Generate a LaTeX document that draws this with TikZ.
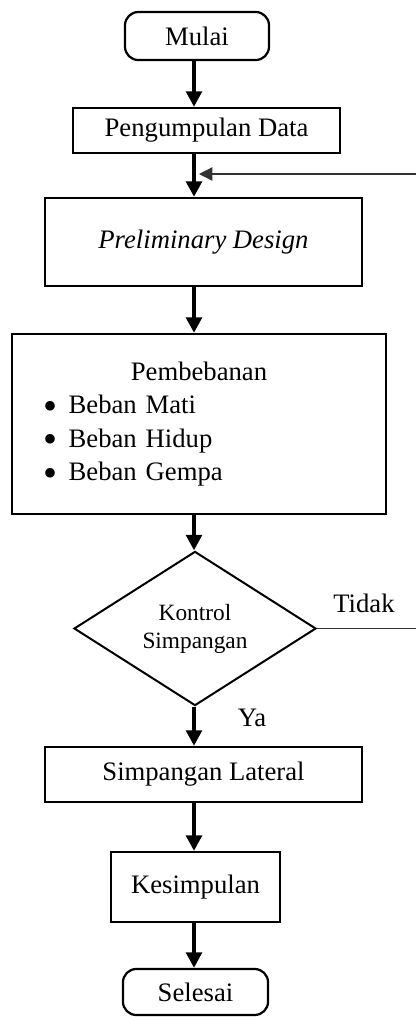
\documentclass[tikz,border=0pt]{standalone}
\usepackage{fontspec}
\setmainfont{Liberation Serif}
\usetikzlibrary{arrows.meta,shapes.geometric}
\tikzset{
  block/.style={draw,rectangle,line width=1pt,inner sep=0pt,align=center},
  term/.style={block,rounded corners=6pt},
  decision/.style={draw,diamond,line width=0.9pt,inner sep=0pt,align=center,font=\fontsize{10.5}{12.6}\selectfont},
  flow/.style={line width=2.2pt,-{Triangle[length=7pt,width=7pt]}},
  back/.style={line width=0.6pt,draw=black!80,-{Triangle[length=6pt,width=6pt]}}
}
\newcommand{\bulitem}{\hspace*{14pt}\makebox[11.5pt][l]{\smash{\raisebox{-2.6pt}{\scalebox{1.5}{\textbullet}}}}}

\begin{document}
\begin{tikzpicture}[x=0.45pt,y=-0.45pt,font=\fontsize{12}{15}\selectfont]
  \useasboundingbox (0,0) rectangle (416,1017);
  \coordinate (col) at (194,0);
  \coordinate (rim) at (440,174);
  \coordinate (join) at (199,174);

  \node[term,minimum width=64.8pt,minimum height=21.6pt] (mulai) at (197,36) {Mulai};
  \node[block,minimum width=120.2pt,minimum height=20.3pt] (data) at (206.5,130.5) {Pengumpulan Data};
  \node[block,minimum width=142.7pt,minimum height=39.6pt] (prelim) at (203.5,242) {\textit{Preliminary Design}};
  \node[block,minimum width=168.3pt,minimum height=81pt,text width=168.3pt,align=left] (beban) at (199,424)
    {\makebox[168.3pt]{Pembebanan}\\
     \bulitem Beban Mati\\
     \bulitem Beban Hidup\\
     \bulitem Beban Gempa};
  \node[decision,minimum width=108.9pt,minimum height=62.6pt] (ctrl) at (195,628.5) {Kontrol\\Simpangan};
  \node[block,minimum width=142.7pt,minimum height=24.8pt] (lateral) at (203.5,774.5) {Simpangan Lateral};
  \node[block,minimum width=76pt,minimum height=31.5pt] (kesimp) at (195.5,887) {Kesimpulan};
  \node[term,minimum width=65.3pt,minimum height=20.7pt] (selesai) at (195.5,992) {Selesai};

  \node (tidak) at (364,603) {Tidak};
  \node (ya) at (252,718) {Ya};

  \draw[flow] (col |- mulai.south) -- (col |- data.north);
  \draw[flow] (col |- data.south) -- (col |- prelim.north);
  \draw[flow] (col |- prelim.south) -- (col |- beban.north);
  \draw[flow] (col |- beban.south) -- (col |- ctrl.north);
  \draw[flow] (col |- ctrl.south) -- (col |- lateral.north);
  \draw[flow] (col |- lateral.south) -- (col |- kesimp.north);
  \draw[flow] (col |- kesimp.south) -- (col |- selesai.north);
  % jalur kembali ke preliminary design
  \draw[back] (ctrl.east) -| (rim) -- (join);
\end{tikzpicture}
\end{document}
